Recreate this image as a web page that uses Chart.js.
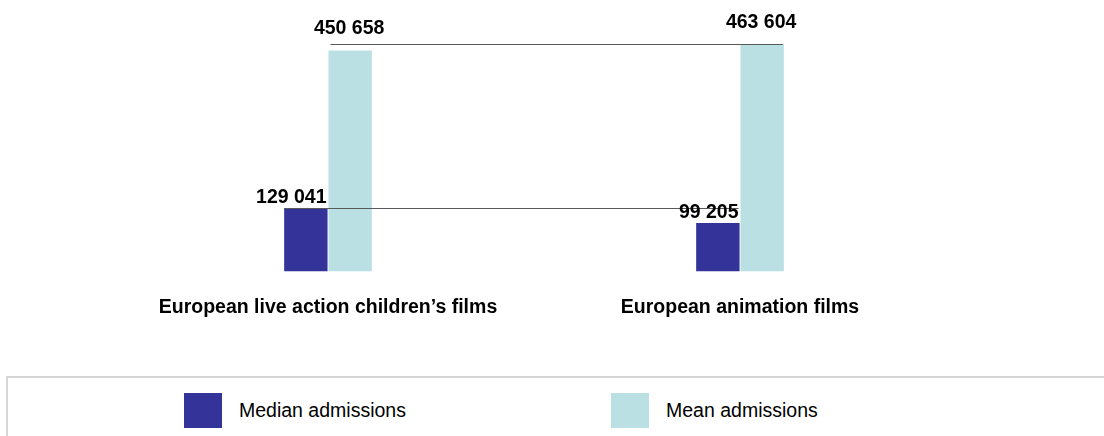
<!DOCTYPE html>
<html>
<head>
<meta charset="utf-8">
<title>Admissions</title>
<script src="https://cdn.jsdelivr.net/npm/chart.js@4.4.1/dist/chart.umd.min.js"></script>
<style>
    html, body {
        margin: 0;
        padding: 0;
        background: #ffffff;
        overflow: hidden;
        font-family: "Liberation Sans", Arial, sans-serif;
    }
    #wrap {
        position: relative;
        width: 1104px;
        height: 436px;
    }
    #chart {
        position: absolute;
        left: 0;
        top: 0;
    }
    #legend {
        position: absolute;
        left: 6px;
        top: 376px;
        width: 1120px;
        height: 80px;
        border: 2px solid #d6d6d6;
        box-sizing: border-box;
    }
    .legend-item {
        position: absolute;
        top: 15px;
        height: 35px;
        display: flex;
        align-items: center;
        font-size: 19.5px;
        color: #000000;
    }
    .legend-box {
        width: 38px;
        height: 35px;
        margin-right: 17px;
    }
</style>
</head>
<body>
<div id="wrap">
    <canvas id="chart" width="1104" height="355"></canvas>
    <div id="legend"></div>
</div>
<script>
// Data
const categories = ['European live action children’s films', 'European animation films'];
const seriesNames = ['Median admissions', 'Mean admissions'];
const medianAdmissions = [129041, 99205];
const meanAdmissions = [450658, 463604];
const seriesColors = ['#333399', '#bae0e3'];

// "129 041" style thousands separator
function formatValue(v) {
    return v.toString().replace(/\B(?=(\d{3})+(?!\d))/g, ' ');
}

// Horizontal line at each series' highest value, running across both categories
const seriesLines = {
    id: 'seriesLines',
    afterDatasetsDraw(chart) {
        const ctx = chart.ctx;
        const yScale = chart.scales.y;
        ctx.save();
        ctx.strokeStyle = '#5a5a5a';
        ctx.lineWidth = 1;
        chart.data.datasets.forEach((ds, i) => {
            const meta = chart.getDatasetMeta(i);
            const first = meta.data[0];
            const last = meta.data[meta.data.length - 1];
            const y = Math.round(yScale.getPixelForValue(Math.max(...ds.data))) + 0.5;
            ctx.beginPath();
            ctx.moveTo(first.x - first.width / 2 + (i === 1 ? 2 : 0), y);
            ctx.lineTo(last.x + last.width / 2 - 1, y);
            ctx.stroke();
        });
        ctx.restore();
    }
};

// Value labels above the bars
const valueLabels = {
    id: 'valueLabels',
    afterDatasetsDraw(chart) {
        const ctx = chart.ctx;
        ctx.save();
        ctx.font = 'bold 19.5px "Liberation Sans", Arial, sans-serif';
        ctx.fillStyle = '#000000';
        ctx.textBaseline = 'alphabetic';
        chart.data.datasets.forEach((ds, i) => {
            const meta = chart.getDatasetMeta(i);
            meta.data.forEach((bar, j) => {
                const text = formatValue(ds.data[j]);
                if (i === 0) {
                    ctx.textAlign = 'right';
                    ctx.fillText(text, bar.x + bar.width / 2 - 1, bar.y - 5);
                } else {
                    ctx.textAlign = 'center';
                    ctx.fillText(text, bar.x - 1, bar.y - 16);
                }
            });
        });
        ctx.restore();
    }
};

const chart = new Chart(document.getElementById('chart'), {
    type: 'bar',
    data: {
        labels: categories,
        datasets: [{
            label: seriesNames[0],
            data: medianAdmissions,
            backgroundColor: seriesColors[0]
        }, {
            label: seriesNames[1],
            data: meanAdmissions,
            backgroundColor: seriesColors[1]
        }]
    },
    options: {
        responsive: false,
        animation: false,
        devicePixelRatio: 1,
        categoryPercentage: 0.215,
        barPercentage: 0.98,
        layout: {
            padding: { left: 122, right: 158, top: 36, bottom: 12 }
        },
        plugins: {
            legend: { display: false },
            tooltip: { enabled: false }
        },
        scales: {
            x: {
                grid: { display: false, drawTicks: false },
                border: { display: false },
                ticks: {
                    color: '#000000',
                    padding: 24,
                    font: {
                        family: '"Liberation Sans", Arial, sans-serif',
                        size: 19.5,
                        weight: 'bold'
                    }
                }
            },
            y: {
                display: false,
                min: 0,
                max: 480000
            }
        }
    },
    plugins: [seriesLines, valueLabels]
});

// Legend built from the chart's datasets
const legendEl = document.getElementById('legend');
const legendLeft = [176, 603];
chart.data.datasets.forEach((ds, i) => {
    const item = document.createElement('div');
    item.className = 'legend-item';
    item.style.left = legendLeft[i] + 'px';
    const box = document.createElement('div');
    box.className = 'legend-box';
    box.style.background = ds.backgroundColor;
    const label = document.createElement('span');
    label.textContent = ds.label;
    item.appendChild(box);
    item.appendChild(label);
    legendEl.appendChild(item);
});
</script>
</body>
</html>
